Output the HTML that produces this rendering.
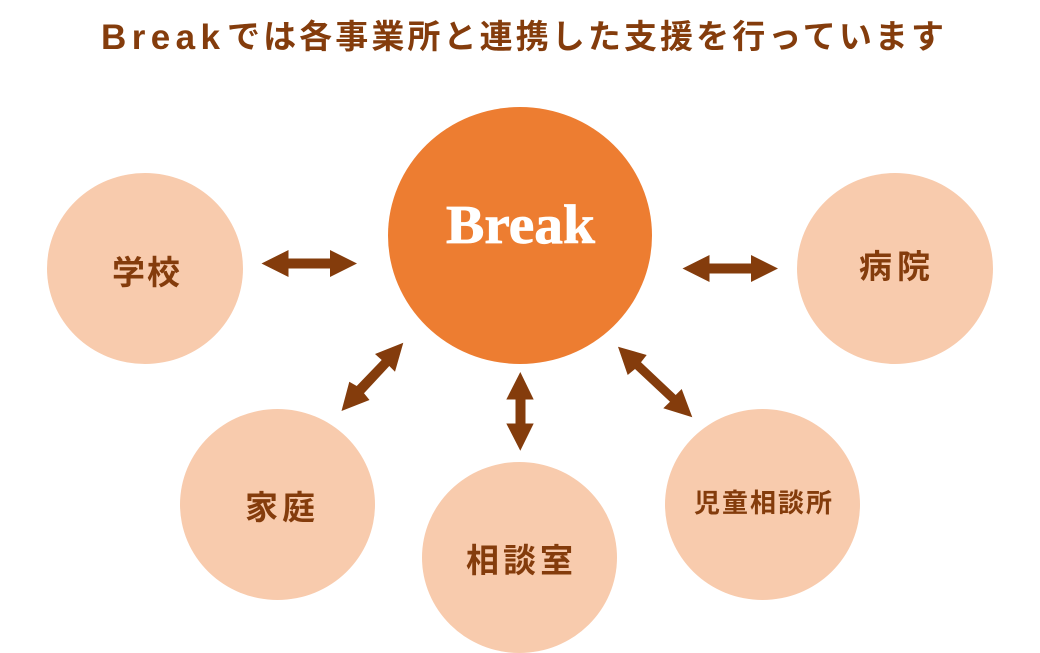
<!DOCTYPE html>
<html lang="ja"><head><meta charset="utf-8"><title>Break</title>
<style>html,body{margin:0;padding:0;background:#fff}svg{display:block}
text{font-family:"Liberation Sans","Noto Sans CJK JP",sans-serif;fill:#843c0c;font-weight:700}</style></head>
<body>
<svg width="1040" height="653" viewBox="0 0 1040 653" xmlns="http://www.w3.org/2000/svg">
<rect width="1040" height="653" fill="#fff"/>
<ellipse cx="520" cy="235.5" rx="132" ry="128.5" fill="#ed7d31"/>
<g fill="#f8cbad">
<ellipse cx="145" cy="268.5" rx="98" ry="95.5"/>
<ellipse cx="895" cy="268.5" rx="98" ry="95.5"/>
<ellipse cx="277.5" cy="504.5" rx="97.5" ry="95.5"/>
<ellipse cx="519.5" cy="557.5" rx="97.5" ry="95.5"/>
<ellipse cx="762.5" cy="504.5" rx="97.5" ry="95.5"/>
</g>
<g fill="#843c0c">
<polygon points="261.5,263.5 288.5,250 288.5,258.5 330,258.5 330,250 357,263.5 330,277 330,268.5 288.5,268.5 288.5,277"/>
<polygon points="682.5,268.5 709.5,255 709.5,263.5 751,263.5 751,255 778,268.5 751,282 751,273.5 709.5,273.5 709.5,282"/>
<polygon points="520.3,372 533.7,399.5 525.5,399.5 525.5,423.5 533.7,423.5 520.3,450.7 506.3,423.5 515.5,423.5 515.5,399.5 506.3,399.5"/>
<polygon points="403.3,342.7 395,371.7 389.3,366 364,393.3 369.5,400 341.5,411 349.3,381.7 356.7,386 381.7,360 375,354"/>
<polygon points="618,346.7 646.7,355 641,362.3 675.7,395 681.7,389 692.3,417.3 663.3,408.3 670,401.7 635,369 627.7,375"/>
</g>
<text x="101" y="49" font-size="35" textLength="119">Break</text>
<text x="227" y="48" font-size="33" textLength="717">では各事業所と連携した支援を行っています</text>
<text x="446" y="243" font-size="55" textLength="149" lengthAdjust="spacingAndGlyphs" stroke="#fff" stroke-width="0.8" style="font-family:'Liberation Serif',serif;fill:#fff">Break</text>
<text x="112" y="284" font-size="33" textLength="68">学校</text>
<text x="859" y="278" font-size="33" textLength="71">病院</text>
<text x="245" y="519" font-size="33" textLength="70">家庭</text>
<text x="466" y="572" font-size="33" textLength="107">相談室</text>
<text x="694" y="512" font-size="26" textLength="138">児童相談所</text>
</svg>
</body></html>
